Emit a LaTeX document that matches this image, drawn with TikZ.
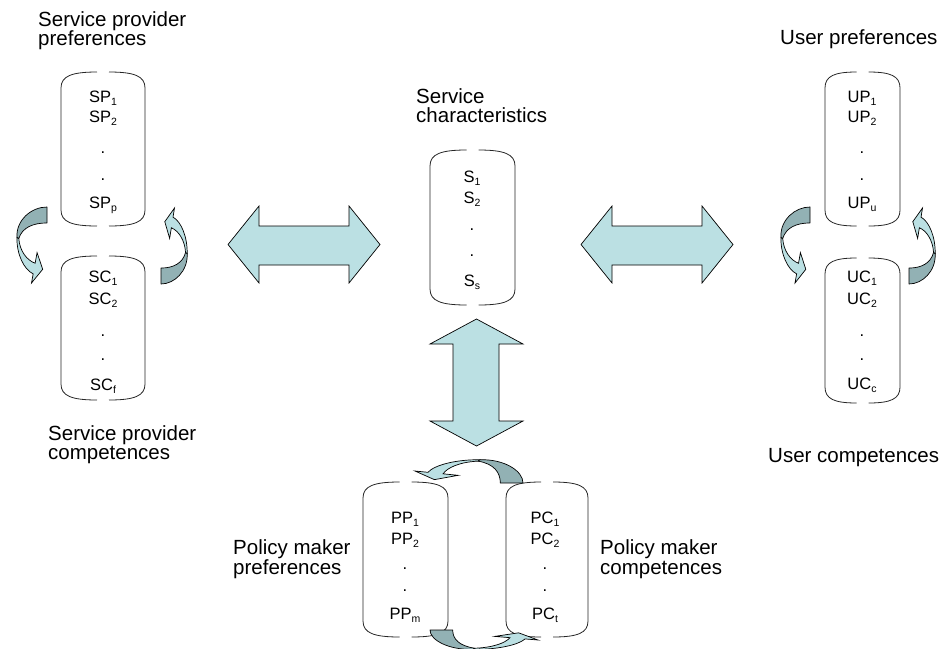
\documentclass[tikz,border=0pt]{standalone}
\usepackage{fontspec}
\setmainfont{Liberation Sans}

\definecolor{arrowlight}{RGB}{187,224,227}
\definecolor{arrowdark}{RGB}{146,177,180}

% subscript in the text font
\newcommand\idx[1]{\raisebox{-3.5pt}{\fontsize{10.5}{10.5}\selectfont #1}}

% open box: two rounded brackets with small gaps in the middle of top and bottom
% #1 name, #2 left, #3 top, #4 right, #5 bottom (pixel units, y downwards)
\newcommand\bracketbox[5]{%
  \coordinate (#1) at ({(#2+#4)/2},{(#3+#5)/2});
  \draw[bbox] ({(#2+#4)/2-6},#3) .. controls ({#2+0.3*((#4-#2)/2-6)},#3) and (#2,#3+4) .. (#2,#3+16)
     -- (#2,#5-16) .. controls (#2,#5-4) and ({#2+0.3*((#4-#2)/2-6)},#5) .. ({(#2+#4)/2-6},#5);
  \draw[bbox] ({(#2+#4)/2+6},#3) .. controls ({#4-0.3*((#4-#2)/2-6)},#3) and (#4,#3+4) .. (#4,#3+16)
     -- (#4,#5-16) .. controls (#4,#5-4) and ({#4-0.3*((#4-#2)/2-6)},#5) .. ({(#2+#4)/2+6},#5);
}

% curved block arrow with a shaded back face, drawn in a unit frame
% #1,#2 origin; #3,#4 u-vector; #5,#6 v-vector (all in pt, canvas orientation)
\newcommand\curvedarrow[6]{%
  \begin{scope}[shift={(#1pt,#2pt)}, x={(#3pt,#4pt)}, y={(#5pt,#6pt)}]
    \filldraw[backface] (1,0) .. controls (0.5,0) and (0,0.17) .. (0.03,0.40)
      -- (0.09,0.415) .. controls (0.2,0.27) and (0.55,0.21) .. (1,0.21) -- cycle;
    \filldraw[frontface] (0.03,0.40) .. controls (0.02,0.62) and (0.25,0.82) .. (0.554,0.88)
      -- (0.5,1.0) -- (0.86,0.82) -- (0.68,0.6) -- (0.617,0.74)
      .. controls (0.35,0.70) and (0.12,0.58) .. (0.09,0.415) -- cycle;
  \end{scope}}

\tikzset{
  bbox/.style={draw=black!85, line width=0.8pt},
  title/.style={font=\fontsize{20.5}{20.5}\selectfont, inner sep=0pt, anchor=base west},
  item/.style={font=\fontsize{16.5}{16.5}\selectfont, inner sep=0pt, anchor=base},
  blockarrow/.style={fill=arrowlight, draw=black, line width=0.7pt, line join=miter},
  backface/.style={fill=arrowdark, draw=black, line width=0.7pt, line join=round},
  frontface/.style={fill=arrowlight, draw=black, line width=0.7pt, line join=miter},
}

\begin{document}
\begin{tikzpicture}[x=1pt,y=-1pt]
\useasboundingbox (0,0) rectangle (949,648);

% ---- boxes ----
\bracketbox{spbox}{61}{72}{145}{226}
\bracketbox{scbox}{61}{256}{145}{400}
\bracketbox{sbox}{430}{150}{515}{305}
\bracketbox{upbox}{825}{72}{900}{226}
\bracketbox{ucbox}{825}{258}{900}{403}
\bracketbox{ppbox}{363}{482}{448}{637}
\bracketbox{pcbox}{506}{482}{588}{637}

% ---- box contents ----
\node[item] (sp1) at (103,102) {SP\idx{1}};
\node[item] (sp2) at (103,122) {SP\idx{2}};
\node[item] (sp3) at (103,153) {.};
\node[item] (sp4) at (103,180) {.};
\node[item] (sp5) at (103,208) {SP\idx{p}};

\node[item] (sc1) at (103,282) {SC\idx{1}};
\node[item] (sc2) at (103,304) {SC\idx{2}};
\node[item] (sc3) at (103,336) {.};
\node[item] (sc4) at (103,360) {.};
\node[item] (sc5) at (103,390) {SC\idx{f}};

\node[item] (s1) at (472,182) {S\idx{1}};
\node[item] (s2) at (472,203) {S\idx{2}};
\node[item] (s3) at (472,230) {.};
\node[item] (s4) at (472,256) {.};
\node[item] (s5) at (472,286) {S\idx{s}};

\node[item] (up1) at (862,102) {UP\idx{1}};
\node[item] (up2) at (862,122) {UP\idx{2}};
\node[item] (up3) at (862,153) {.};
\node[item] (up4) at (862,180) {.};
\node[item] (up5) at (862,208) {UP\idx{u}};

\node[item] (uc1) at (862,282) {UC\idx{1}};
\node[item] (uc2) at (862,304) {UC\idx{2}};
\node[item] (uc3) at (862,336) {.};
\node[item] (uc4) at (862,360) {.};
\node[item] (uc5) at (862,389) {UC\idx{c}};

\node[item] (pp1) at (405,523) {PP\idx{1}};
\node[item] (pp2) at (405,544) {PP\idx{2}};
\node[item] (pp3) at (405,569) {.};
\node[item] (pp4) at (405,591) {.};
\node[item] (pp5) at (405,619) {PP\idx{m}};

\node[item] (pc1) at (545,523) {PC\idx{1}};
\node[item] (pc2) at (545,544) {PC\idx{2}};
\node[item] (pc3) at (545,569) {.};
\node[item] (pc4) at (545,591) {.};
\node[item] (pc5) at (545,619) {PC\idx{t}};

% ---- titles ----
\node[title] (spt1) at (38,26) {Service provider};
\node[title] (spt2) at (38,45) {preferences};
\node[title] (sct1) at (48,440) {Service provider};
\node[title] (sct2) at (48,459) {competences};
\node[title] (st1) at (416,103) {Service};
\node[title] (st2) at (416,122) {characteristics};
\node[title] (upt) at (780,44) {User preferences};
\node[title] (uct) at (768,462) {User competences};
\node[title] (ppt1) at (233,554) {Policy maker};
\node[title] (ppt2) at (233,574) {preferences};
\node[title] (pct1) at (600,554) {Policy maker};
\node[title] (pct2) at (600,574) {competences};

% ---- double block arrows ----
\draw[blockarrow] (228,244.5) -- (259,206) -- (259,226) -- (349,226) -- (349,206) -- (380,244.5)
  -- (349,283) -- (349,265) -- (259,265) -- (259,283) -- cycle;
\draw[blockarrow] (581,244.5) -- (612,206) -- (612,226) -- (702,226) -- (702,206) -- (733,244.5)
  -- (702,283) -- (702,265) -- (612,265) -- (612,283) -- cycle;
\draw[blockarrow] (476.5,319) -- (523,344) -- (499,344) -- (499,421) -- (523,421) -- (476.5,446)
  -- (430,421) -- (453,421) -- (453,344) -- (430,344) -- cycle;

% ---- curved arrows between preference and competence boxes ----
\curvedarrow{16}{-207}{31}{0}{0}{-76}
\curvedarrow{188}{-284}{-27}{0}{0}{76}
\curvedarrow{780}{-207}{30}{0}{0}{-76}
\curvedarrow{936}{-284}{-27}{0}{0}{76}
\curvedarrow{523}{-459}{0}{-24}{-108}{0}
\curvedarrow{430}{-650}{0}{20}{108}{0}
\end{tikzpicture}
\end{document}
